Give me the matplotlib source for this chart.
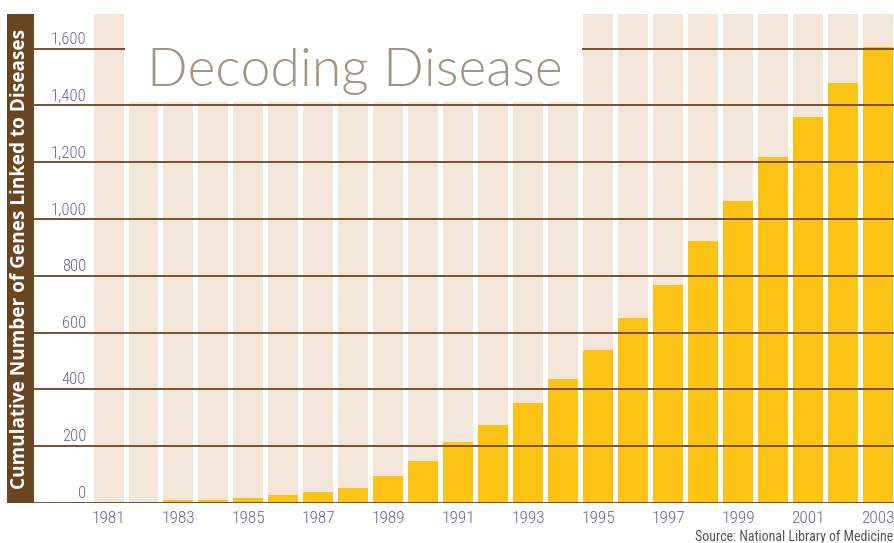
import matplotlib.pyplot as plt
from matplotlib.patches import Rectangle
from matplotlib import font_manager

years = list(range(1981, 2004))
genes = [3, 5, 10, 10, 18, 28, 40, 52, 95, 148, 215, 275, 352, 436, 538,
         650, 767, 921, 1065, 1220, 1361, 1480, 1607]
yticks = [0, 200, 400, 600, 800, 1000, 1200, 1400, 1600]

names = {f.name for f in font_manager.fontManager.ttflist}


def pick(cands):
    for c in cands:
        if c in names:
            return c
    return 'DejaVu Sans'


narrow = pick(['Liberation Sans Narrow', 'Roboto Condensed', 'Archivo Narrow',
               'PT Sans Narrow', 'IBM Plex Sans Condensed', 'Fira Sans Condensed'])

brown = '#6a4522'
beige = '#f2e6da'
gold = '#fdc314'
purple = '#6b6591'

fig = plt.figure(figsize=(8.95, 5.43), dpi=100)
W, H = 895, 543
ax = fig.add_axes([34 / W, (H - 503) / H, (W - 34) / W, (503 - 14) / H])
top = 1722
ax.set_xlim(-2.13, 22.48)
ax.set_ylim(0, top)
x = list(range(len(years)))

# background columns and bars
ax.bar(x, [top] * len(x), width=0.857, color=beige, zorder=1)
ax.bar(x, genes, width=0.857, color=gold, zorder=2)

# gridlines and value labels
for v in yticks:
    ax.axhline(v, color=brown, lw=1.3, zorder=3)
    ax.text(0.0604, v + 18, f'{v:,}', transform=ax.get_yaxis_transform(),
            ha='right', va='baseline', color=purple, fontsize=12,
            family=narrow, fontweight=300, zorder=5)

# white title box
ax.add_patch(Rectangle((0.46, 1412), 13.08, top, color='white', zorder=4, lw=0))
ax.text(1.1, 1467, 'Decoding Disease', color='#a39581', fontsize=38.5,
        family='Lato', fontweight=300, va='baseline', zorder=6)

ax.set_xticks(x[::2])
ax.set_xticklabels([str(y) for y in years[::2]], color=purple, fontsize=12.5,
                   family=narrow, fontweight=300)
ax.tick_params(axis='x', length=0, pad=6)
ax.set_yticks([])
for s in ax.spines.values():
    s.set_visible(False)

# brown band with y label
band = fig.add_axes([7 / W, (H - 503) / H, 27 / W, (503 - 14) / H])
band.set_facecolor(brown)
band.set_xticks([])
band.set_yticks([])
for s in band.spines.values():
    s.set_visible(False)
band.text(0.5, 0.5, 'Cumulative Number of Genes Linked to Diseases',
          rotation=90, ha='center', va='center', color='white',
          fontsize=13.7, fontweight='bold', family='Open Sans',
          transform=band.transAxes)

fig.text(893 / W, 1 - 537 / H, 'Source: National Library of Medicine',
         ha='right', va='center', fontsize=10, color='#555555', family=narrow)

fig.savefig('out.png', dpi=100)
